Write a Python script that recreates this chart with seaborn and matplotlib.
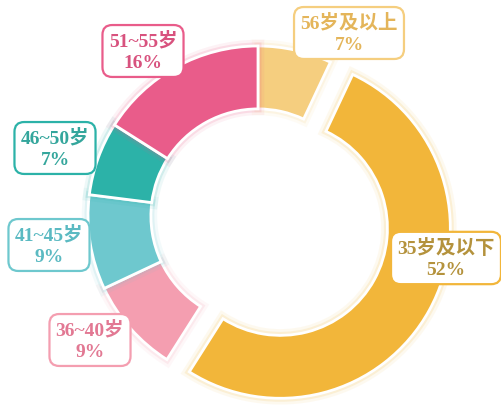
import matplotlib
matplotlib.use("Agg")
import matplotlib.pyplot as plt
import matplotlib.patheffects as pe
import seaborn as sns

# data, in drawing order (clockwise from 12 o'clock)
categories = ["56岁及以上", "35岁及以下", "36~40岁", "41~45岁", "46~50岁", "51~55岁"]
shares = [7, 52, 9, 9, 7, 16]
slice_colors = ["#F5CE7F", "#F2B63A", "#F49EB0", "#6EC8CE", "#2CB2A8", "#E95C8A"]
text_colors = ["#E4B55A", "#B4923C", "#E27893", "#5BBAC2", "#34A69C", "#D8527E"]
# label box centres in pixels (x from left, y from top)
label_px = [(349, 34), (446, 259), (90, 341), (49, 246), (55, 149), (143, 52)]

W, H = 501, 406
CX, CY, R = 258, 217, 170  # donut centre / radius in pixels

sns.set_theme(style="white")
plt.rcParams["font.family"] = ["Liberation Serif", "Noto Sans CJK SC", "DejaVu Sans"]

fig = plt.figure(figsize=(W / 100, H / 100), dpi=100)
ax = fig.add_axes([0, 0, 1, 1])

palette = sns.color_palette(slice_colors)
explode = [0.15 if c == "35岁及以下" else 0 for c in categories]

wedges, _ = ax.pie(
    shares,
    colors=palette,
    startangle=90,
    counterclock=False,
    explode=explode,
    radius=1,
    wedgeprops=dict(width=0.37, edgecolor="white", linewidth=2),
)

# soft coloured glow around each slice
for w, col in zip(wedges, slice_colors):
    w.set_path_effects([
        pe.Stroke(linewidth=9, foreground=col, alpha=0.08),
        pe.Stroke(linewidth=5, foreground=col, alpha=0.15),
        pe.Normal(),
    ])

for cat, val, tcol, scol, (px, py) in zip(categories, shares, text_colors, slice_colors, label_px):
    x = (px - CX) / R
    y = (CY - py) / R
    ax.text(
        x, y, f"{cat}\n{val}%",
        ha="center", va="center", fontsize=14, fontweight="bold",
        color=tcol, linespacing=1.3,
        bbox=dict(boxstyle="round,pad=0.32,rounding_size=0.5", facecolor="white",
                  edgecolor=scol, linewidth=1.6),
    )

ax.set_xlim(-CX / R, (W - CX) / R)
ax.set_ylim(-(H - CY) / R, CY / R)
ax.set_aspect("auto")
ax.axis("off")

fig.savefig("out.png", dpi=100, facecolor="white")
